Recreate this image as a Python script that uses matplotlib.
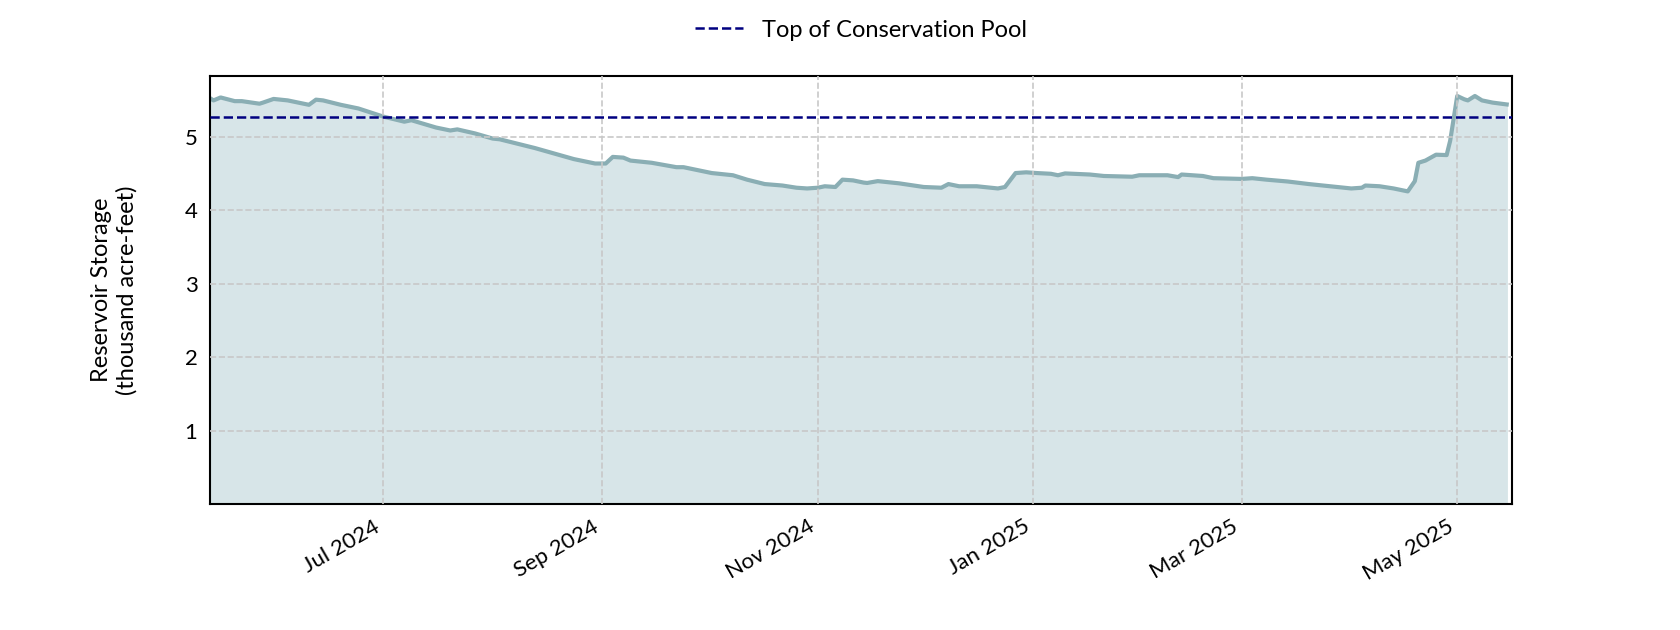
import numpy as np
import pandas as pd
import matplotlib
matplotlib.use("Agg")
import matplotlib.pyplot as plt
import matplotlib.dates as mdates

plt.rcParams['font.family'] = ['Lato', 'DejaVu Sans']

# Storage readings (thousand acre-feet)
dates = [
    "2024-05-13", "2024-05-14", "2024-05-16", "2024-05-20", "2024-05-22",
    "2024-05-27", "2024-05-28", "2024-05-31", "2024-06-04", "2024-06-10",
    "2024-06-12", "2024-06-14", "2024-06-19", "2024-06-24", "2024-07-01",
    "2024-07-07", "2024-07-09", "2024-07-16", "2024-07-20", "2024-07-22",
    "2024-07-27", "2024-08-01", "2024-08-03", "2024-08-13", "2024-08-24",
    "2024-08-30", "2024-09-02", "2024-09-04", "2024-09-07", "2024-09-09",
    "2024-09-15", "2024-09-22", "2024-09-24", "2024-10-02", "2024-10-08",
    "2024-10-12", "2024-10-17", "2024-10-22", "2024-10-26", "2024-10-29",
    "2024-11-01", "2024-11-03", "2024-11-06", "2024-11-08", "2024-11-11",
    "2024-11-14", "2024-11-15", "2024-11-18", "2024-11-24", "2024-12-01",
    "2024-12-06", "2024-12-08", "2024-12-11", "2024-12-16", "2024-12-22",
    "2024-12-24", "2024-12-27", "2024-12-30", "2025-01-02", "2025-01-06",
    "2025-01-08", "2025-01-10", "2025-01-17", "2025-01-21", "2025-01-29",
    "2025-01-31", "2025-02-08", "2025-02-11", "2025-02-12", "2025-02-18",
    "2025-02-21", "2025-03-01", "2025-03-04", "2025-03-08", "2025-03-14",
    "2025-03-20", "2025-03-26", "2025-04-01", "2025-04-04", "2025-04-05",
    "2025-04-09", "2025-04-13", "2025-04-17", "2025-04-19", "2025-04-20",
    "2025-04-22", "2025-04-25", "2025-04-28", "2025-04-29", "2025-05-01",
    "2025-05-03", "2025-05-04", "2025-05-06", "2025-05-08", "2025-05-11",
    "2025-05-15",
]
storage = [
    5.53, 5.50, 5.54, 5.49, 5.49,
    5.455, 5.47, 5.52, 5.50, 5.44,
    5.51, 5.50, 5.44, 5.39, 5.28,
    5.21, 5.23, 5.13, 5.09, 5.105,
    5.05, 4.98, 4.97, 4.85, 4.70,
    4.64, 4.64, 4.73, 4.72, 4.68,
    4.65, 4.59, 4.59, 4.51, 4.48,
    4.42, 4.36, 4.34, 4.31, 4.30,
    4.31, 4.33, 4.32, 4.42, 4.41,
    4.38, 4.375, 4.40, 4.37, 4.32,
    4.31, 4.36, 4.33, 4.33, 4.30,
    4.32, 4.51, 4.52, 4.51, 4.50,
    4.48, 4.505, 4.49, 4.47, 4.46,
    4.48, 4.48, 4.455, 4.49, 4.47,
    4.44, 4.43, 4.44, 4.42, 4.395,
    4.36, 4.33, 4.30, 4.31, 4.34,
    4.33, 4.30, 4.26, 4.40, 4.65,
    4.68, 4.76, 4.755, 4.95, 5.56,
    5.515, 5.50, 5.56, 5.50, 5.47,
    5.445,
]
top_of_conservation = 5.28

dates = pd.to_datetime(dates)

fig, ax = plt.subplots(figsize=(16.8, 6.3), dpi=100)

ax.fill_between(dates, storage, 0, color='#d7e5e8', zorder=1)
ax.plot(dates, storage, color='#8aaeb4', linewidth=3, zorder=2)
ax.axhline(top_of_conservation, color='#000080', linestyle='--', linewidth=1.8,
           label='Top of Conservation Pool', zorder=3)

ax.set_ylim(0, max(storage) * 1.05)
ax.set_xlim(pd.Timestamp("2024-05-13"), pd.Timestamp("2025-05-16 12:00"))
ax.set_yticks([1, 2, 3, 4, 5])
ax.set_ylabel('Reservoir Storage\n(thousand acre-feet)', fontsize=17, labelpad=34)

ax.xaxis.set_major_locator(mdates.MonthLocator(bymonth=[1, 3, 5, 7, 9, 11]))
ax.xaxis.set_major_formatter(mdates.DateFormatter('%b %Y'))
ax.tick_params(axis='both', length=0, labelsize=16, pad=9)

ax.grid(True, linestyle='--', color='#c8c8c8', linewidth=1.2)
ax.set_axisbelow(False)
for sp in ax.spines.values():
    sp.set_linewidth(1.5)
    sp.set_color('black')

ax.legend(loc='upper center', bbox_to_anchor=(0.5, 1.18), frameon=False,
          fontsize=17)

fig.autofmt_xdate()
fig.savefig('out.png', dpi=100)
